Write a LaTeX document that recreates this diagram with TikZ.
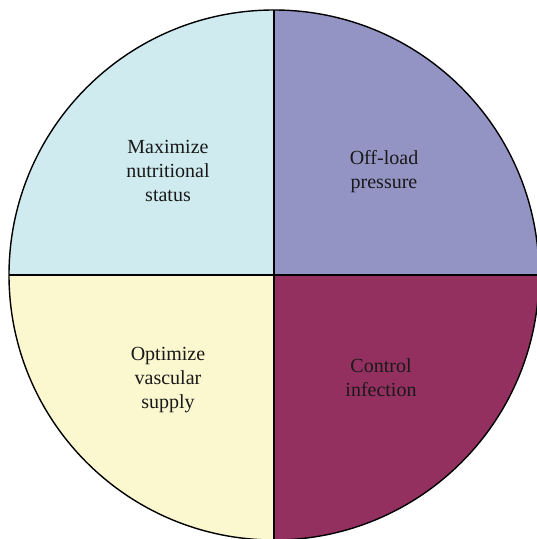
\documentclass[tikz,border=0pt]{standalone}
\usepackage{fontspec}
\setmainfont{Liberation Serif}
\definecolor{qblue}{HTML}{CFEBEF}
\definecolor{qpurple}{HTML}{9393C4}
\definecolor{qyellow}{HTML}{FBF7CF}
\definecolor{qmaroon}{HTML}{933060}
\begin{document}
\begin{tikzpicture}[x=1pt,y=1pt,
  lbl/.style={align=center,font=\fontsize{20}{24}\selectfont,text=black!90},
  edge/.style={draw=black,line width=1.4pt}]
\useasboundingbox (0,0) rectangle (537,539);
\clip (0,0) rectangle (537,539);
\coordinate (c) at (274,264);
\fill[qblue] (c) -- (9,264) arc[start angle=180,end angle=90,radius=265] -- cycle;
\fill[qpurple] (c) -- (274,529) arc[start angle=90,end angle=0,radius=265] -- cycle;
\fill[qmaroon] (c) -- (539,264) arc[start angle=0,end angle=-90,radius=265] -- cycle;
\fill[qyellow] (c) -- (274,-1) arc[start angle=-90,end angle=-180,radius=265] -- cycle;
\draw[edge] (c) circle[radius=265];
\coordinate (l) at (9,264);
\coordinate (r) at (539,264);
\coordinate (t) at (274,529);
\coordinate (b) at (274,-1);
\draw[edge] (l) -- (r);
\draw[edge] (t) -- (b);
\node[lbl] (n1) at (168,368) {Maximize\\nutritional\\status};
\node[lbl] (n2) at (384,367) {Off-load\\pressure};
\node[lbl] (n3) at (168,159) {Optimize\\vascular\\supply};
\node[lbl] (n4) at (381,161) {Control\\infection};
\end{tikzpicture}
\end{document}
